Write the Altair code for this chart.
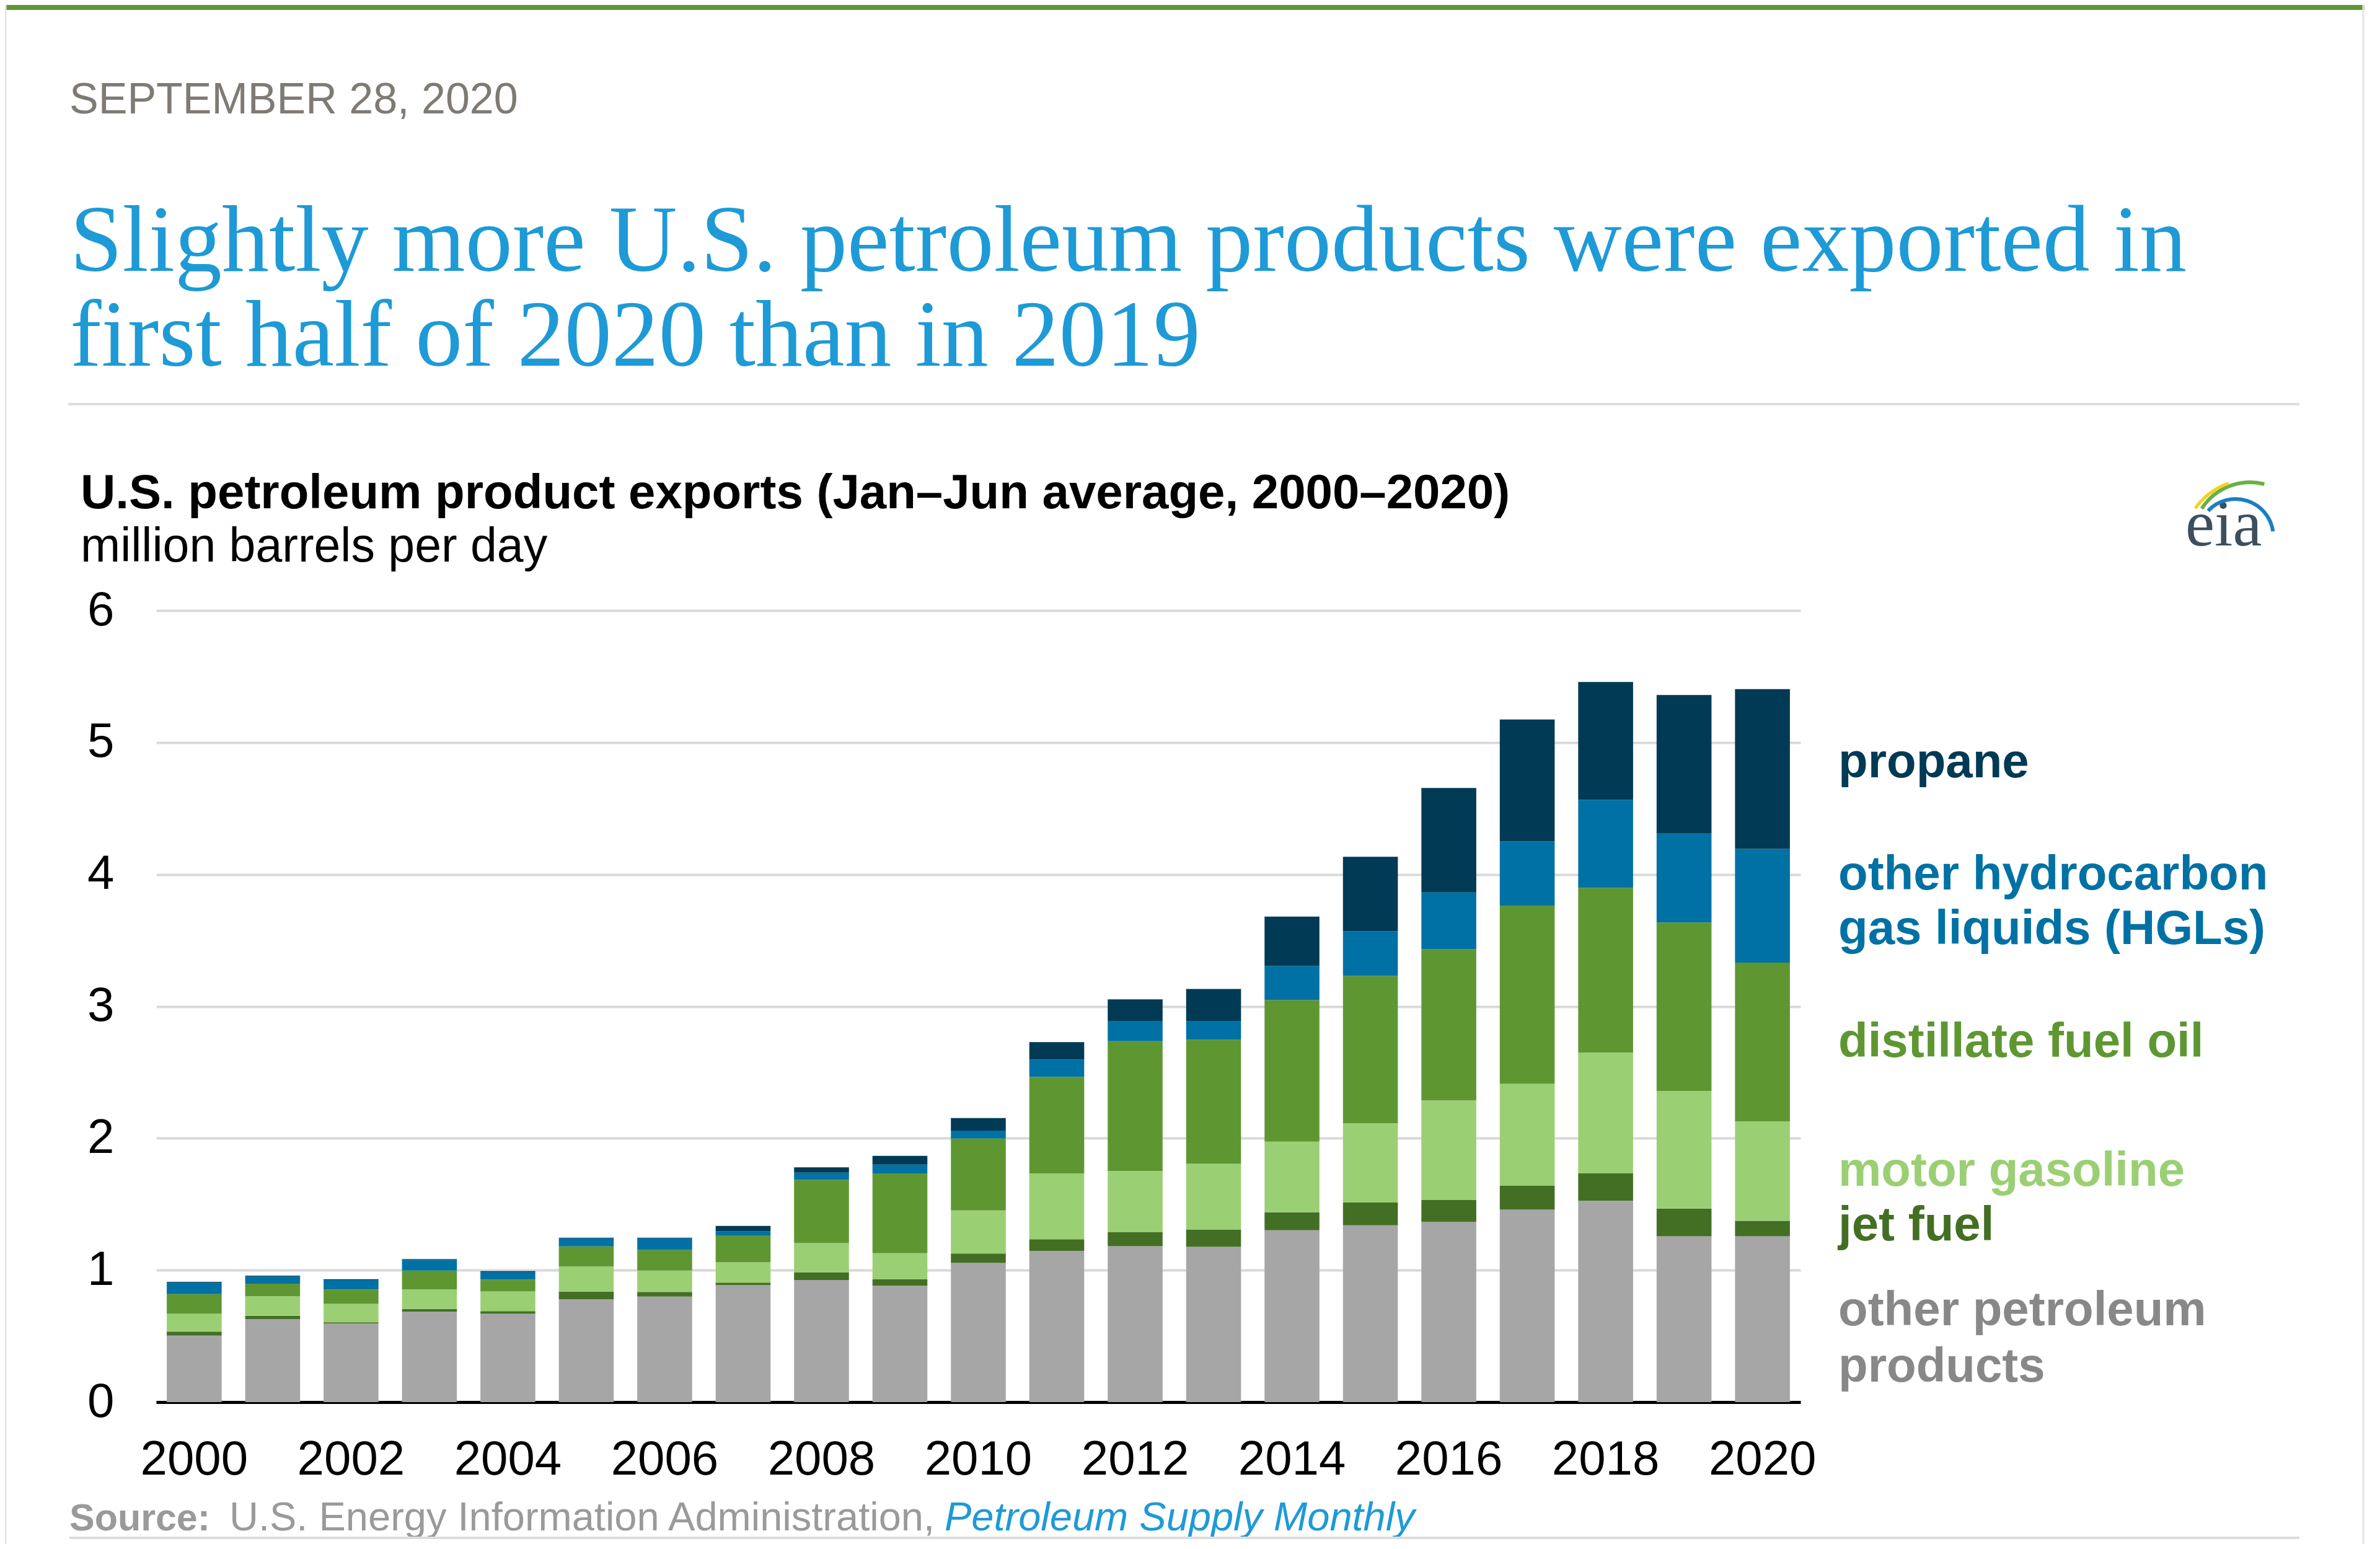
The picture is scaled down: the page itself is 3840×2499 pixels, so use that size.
import altair as alt
import pandas as pd

years = list(range(2000, 2021))
other_products = [0.504, 0.630, 0.595, 0.685, 0.669, 0.780, 0.800, 0.887, 0.926, 0.882, 1.055,
                  1.146, 1.182, 1.177, 1.303, 1.340, 1.366, 1.459, 1.527, 1.257, 1.257]
jet_fuel = [0.031, 0.024, 0.010, 0.021, 0.021, 0.058, 0.035, 0.019, 0.058, 0.048, 0.072,
            0.089, 0.108, 0.132, 0.136, 0.173, 0.166, 0.183, 0.207, 0.210, 0.117]
motor_gasoline = [0.134, 0.149, 0.140, 0.148, 0.149, 0.190, 0.162, 0.154, 0.221, 0.199, 0.326,
                  0.499, 0.463, 0.497, 0.536, 0.600, 0.755, 0.771, 0.915, 0.892, 0.755]
distillate = [0.150, 0.095, 0.109, 0.143, 0.090, 0.153, 0.156, 0.200, 0.480, 0.605, 0.545,
              0.731, 0.983, 0.942, 1.073, 1.117, 1.145, 1.351, 1.250, 1.276, 1.202]
other_hgl = [0.087, 0.055, 0.072, 0.082, 0.058, 0.060, 0.088, 0.036, 0.055, 0.067, 0.060,
             0.132, 0.154, 0.142, 0.259, 0.339, 0.431, 0.486, 0.666, 0.675, 0.862]
propane = [0.005, 0.005, 0.005, 0.005, 0.005, 0.005, 0.005, 0.039, 0.040, 0.065, 0.095,
           0.132, 0.163, 0.242, 0.373, 0.564, 0.792, 0.924, 0.894, 1.050, 1.212]

series = ["other petroleum products", "jet fuel", "motor gasoline",
          "distillate fuel oil", "other hydrocarbon gas liquids (HGLs)", "propane"]
series_values = [other_products, jet_fuel, motor_gasoline, distillate, other_hgl, propane]
colors = ["#A6A6A6", "#436F25", "#9BCF74", "#5E9732", "#0071A4", "#003A54"]
year_ticks = [2000, 2002, 2004, 2006, 2008, 2010, 2012, 2014, 2016, 2018, 2020]
y_ticks = [0, 1, 2, 3, 4, 5, 6]

rows = []
for i, yr in enumerate(years):
    for k, (name, vals) in enumerate(zip(series, series_values)):
        rows.append({"year": yr, "product": name, "value": vals[i], "order": k})
df = pd.DataFrame(rows)

PL, PT, W, H = 244, 977, 2653, 1277
TOTAL_W, TOTAL_H = 3824, 2483
SANS = "Liberation Sans"
SERIF = "Liberation Serif"


def px(X):
    return X - 8 - PL


def py(Y):
    return Y - 8 - PT


def one():
    return alt.Data(values=[{}])


def text(s, X, Y, size, color, weight="normal", font=SANS, style="normal"):
    return alt.Chart(one()).mark_text(
        text=s, font=font, fontSize=size, fontWeight=weight, fontStyle=style,
        color=color, align="left", baseline="alphabetic"
    ).encode(x=alt.value(px(X)), y=alt.value(py(Y)))


def hline(X1, X2, Y, color, width):
    return alt.Chart(one()).mark_rule(color=color, strokeWidth=width).encode(
        x=alt.value(px(X1)), x2=alt.value(px(X2)), y=alt.value(py(Y)))


def vline(X, Y1, Y2, color, width):
    return alt.Chart(one()).mark_rule(color=color, strokeWidth=width).encode(
        x=alt.value(px(X)), y=alt.value(py(Y1)), y2=alt.value(py(Y2)))


def arc(X, Y, r, thick, t1, t2, color):
    return alt.Chart(one()).mark_arc(
        radius=r, radius2=r - thick, theta=t1, theta2=t2, color=color
    ).encode(x=alt.value(px(X)), y=alt.value(py(Y)))


bars = alt.Chart(df).mark_bar().encode(
    x=alt.X("year:O", title=None,
            scale=alt.Scale(paddingInner=0.30, paddingOuter=0.135),
            axis=alt.Axis(values=year_ticks, labelAngle=0, labelFont=SANS, labelFontSize=78,
                          labelColor="#000000", labelPadding=54, ticks=False,
                          domain=True, domainColor="#000000", domainWidth=5, grid=False)),
    y=alt.Y("value:Q", stack="zero", title=None,
            scale=alt.Scale(domain=[0, 6], nice=False),
            axis=alt.Axis(values=y_ticks, labelFont=SANS, labelFontSize=78, labelColor="#000000",
                          labelPadding=68, ticks=False, domain=False, grid=True,
                          gridColor="#D9D9D9", gridWidth=4, format="d")),
    color=alt.Color("product:N", scale=alt.Scale(domain=series, range=colors), legend=None),
    order=alt.Order("order:Q", sort="ascending"),
)

layers = [
    hline(8, 3815, 12, "#5E9732", 8),
    vline(9, 8, 2491, "#E3E3E3", 3),
    vline(3813, 8, 2491, "#E3E3E3", 3),
    text("SEPTEMBER 28, 2020", 112, 183, 70, "#7F7A74"),
    text("Slightly more U.S. petroleum products were exported in", 113, 437, 152, "#1E9AD6", font=SERIF),
    text("first half of 2020 than in 2019", 113, 590, 152, "#1E9AD6", font=SERIF),
    hline(110, 3710, 652, "#DDDDDD", 4),
    text("U.S. petroleum product exports (Jan\u2013Jun average, 2000\u20132020)", 130, 820, 78, "#000000", weight="bold"),
    text("million barrels per day", 130, 906, 77, "#000000"),
    text("eia", 3526, 880, 106, "#3D4F5C", font=SERIF),
    arc(3607, 866, 64, 6, 5.47, 7.71, "#1A7FC4"),
    arc(3630, 870, 95, 6, 5.28, 6.54, "#6AB043"),
    arc(3632, 884, 113, 5, 5.33, 5.95, "#F5D01E"),
    bars,
    text("propane", 2966, 1254, 78, "#003A54", weight="bold"),
    text("other hydrocarbon", 2966, 1435, 78, "#0071A4", weight="bold"),
    text("gas liquids (HGLs)", 2966, 1523, 78, "#0071A4", weight="bold"),
    text("distillate fuel oil", 2966, 1705, 78, "#5E9732", weight="bold"),
    text("motor gasoline", 2966, 1913, 78, "#9BCF74", weight="bold"),
    text("jet fuel", 2966, 2001, 78, "#436F25", weight="bold"),
    text("other petroleum", 2966, 2138, 78, "#888888", weight="bold"),
    text("products", 2966, 2229, 78, "#888888", weight="bold"),
    text("Source:", 112, 2469, 61, "#9A9A9A", weight="bold"),
    text("U.S. Energy Information Administration,", 370, 2469, 65, "#9A9A9A"),
    text("Petroleum Supply Monthly", 1524, 2469, 65, "#1E9AD6", style="italic"),
    hline(112, 3710, 2481, "#DDDDDD", 4),
]

chart = alt.layer(*layers).properties(
    width=W, height=H,
    padding={"left": PL, "top": PT, "right": TOTAL_W - PL - W, "bottom": TOTAL_H - PT - H},
    autosize=alt.AutoSizeParams(type="none"),
    background="#FFFFFF",
).configure_view(stroke=None)

chart.save("out.html", embed_options={"renderer": "svg", "actions": False})
